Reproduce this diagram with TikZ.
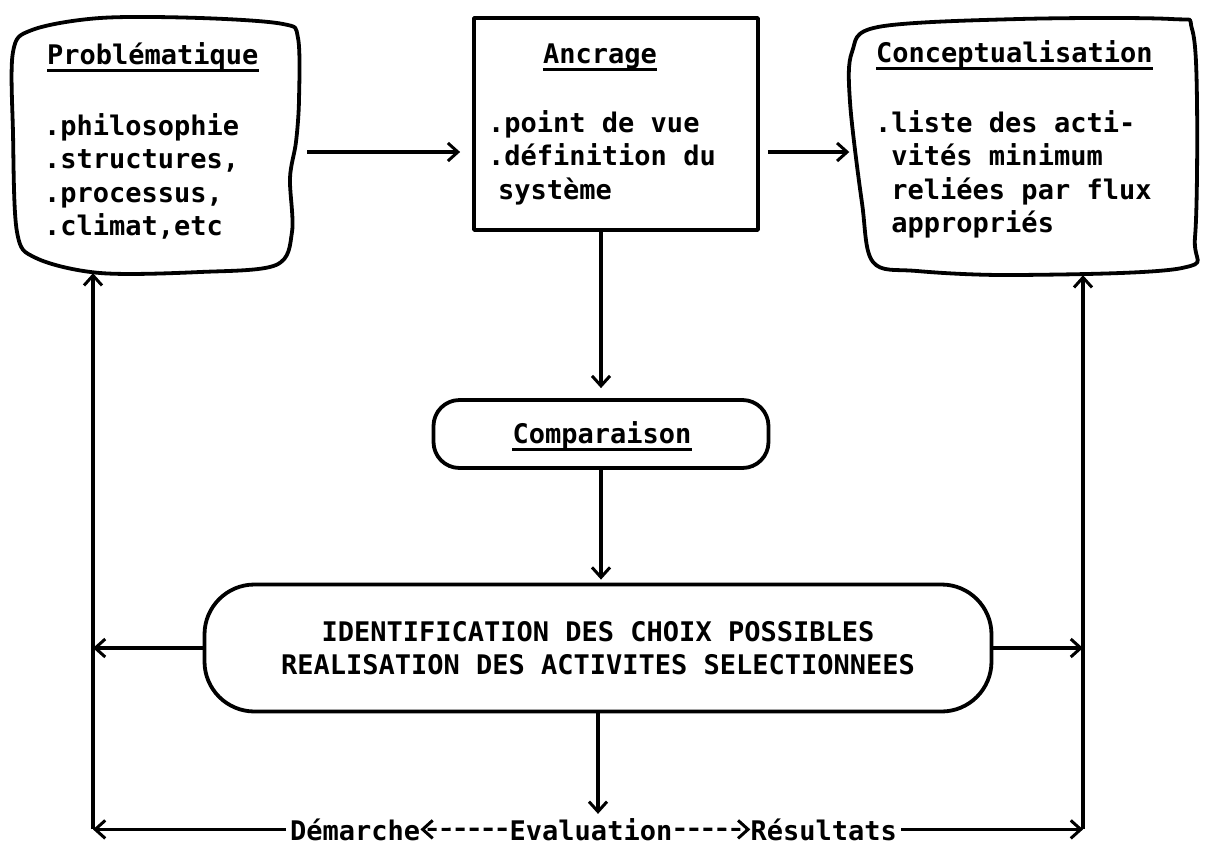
\documentclass[tikz,border=0pt]{standalone}
\usepackage{fontspec}
\newfontfamily\plotfont{DejaVu Sans Mono}
\usetikzlibrary{arrows.meta,calc}
% left-aligned block of lines whose first baseline is the node baseline
\newcommand\rowsblock[1]{\begin{tabular}[t]{@{}l@{}}#1\end{tabular}}

\begin{document}
\begin{tikzpicture}[x=1pt,y=-1pt,
  every node/.style={font=\plotfont\bfseries\fontsize{27}{33.5}\selectfont, inner sep=0pt},
  boxline/.style={line width=3.8pt, line join=round},
  conn/.style={line width=3.2pt},
  arr/.style={conn, -{Straight Barb[length=10pt,width=18pt,line width=3pt]}},
  darr/.style={arr, dash pattern=on 9pt off 5pt},
  uline/.style={line width=3pt}
]
\fill[white] (0,0) rectangle (1208,847);
\useasboundingbox (0,0) rectangle (1208,847);

% ---- upper row -------------------------------------------------------
\node[minimum width=288pt, minimum height=242pt] (prob) at (155,152) {};
\draw[boxline] plot[smooth cycle, tension=0.55] coordinates {
  (13,52) (32,30) (100,18) (200,18) (283,24) (298,38) (299,100) (296,142)
  (290,178) (292,232) (276,265) (200,272) (100,273) (36,258) (17,232) (13,133)};
\node[anchor=base west] (probT) at (47,64) {Problématique};
\node[anchor=base west] (probL) at (44,135)
  {\rowsblock{.philosophie\\.structures,\\.processus,\\.climat,etc}};

\node[draw, boxline, minimum width=284pt, minimum height=212pt] (anc) at (616,124) {};
\node[anchor=base] (ancT) at (600,63) {Ancrage};
\node[anchor=base west] (ancL) at (488,132)
  {\rowsblock{.point de vue\\.définition du\\\hspace{10pt}système}};

\node[minimum width=347pt, minimum height=246pt] (conc) at (1023,152) {};
\draw[boxline] plot[smooth cycle, tension=0.55] coordinates {
  (852,52) (878,27) (1019,19) (1171,19) (1192,29) (1197,102) (1195,237)
  (1182,268) (1019,275) (917,271) (873,262) (862,203) (850,102)};
\node[anchor=base west] (concT) at (876,62) {Conceptualisation};
\node[anchor=base west] (concL) at (875,132)
  {\rowsblock{.liste des acti-\\\phantom{.}vités minimum\\\phantom{.}reliées par flux\\\phantom{.}appropriés}};

% ---- middle column ---------------------------------------------------
\node[draw, boxline, rounded corners=26pt, minimum width=335pt, minimum height=68pt] (cmp) at (601,434) {};
\node[anchor=base] (cmpT) at (602,443) {Comparaison};

\node[draw, boxline, rounded corners=50pt, minimum width=787pt, minimum height=127pt, align=center] (idf) at (598,648)
  {IDENTIFICATION DES CHOIX POSSIBLES\\REALISATION DES ACTIVITES SELECTIONNEES};

% ---- bottom line -----------------------------------------------------
\coordinate (cl) at (93,831);
\coordinate (cr) at (1083,831);
\node[anchor=base west] (dem) at (290,840) {Démarche};
\node[anchor=base] (eva) at (591,840) {Evaluation};
\node[anchor=base east] (res) at (897,840) {Résultats};

% ---- underlined titles ----------------------------------------------
\foreach \t in {probT,ancT,concT,cmpT}
  \draw[uline] ([yshift=-6pt]\t.base west) -- ([yshift=-6pt]\t.base east);

% ---- connectors ------------------------------------------------------
\draw[arr, shorten <=8pt, shorten >=12pt] (prob.east) -- (prob.east -| anc.west);
\draw[arr, shorten <=8pt] (anc.east |- prob.east) -- (conc.west);
\draw[arr, shorten >=10pt] (anc.south -| cmp.north) -- (cmp.north);
\draw[arr, shorten >=3pt] (cmp.south) -- (cmp.south |- idf.north);
\draw[arr, shorten >=4pt] (idf.south) -- (idf.south |- eva.north);
\draw[arr] (idf.west) -- (idf.west -| cl);
\draw[arr] (idf.east) -- (idf.east -| cr);
\draw[arr, shorten <=4pt] (dem.west) -- (dem.west -| cl);
\draw[arr, shorten <=4pt] (res.east) -- (res.east -| cr);
\draw[arr] (dem.west -| cl) -- (cl |- prob.south);
\draw[arr] (res.east -| cr) -- (cr |- conc.south);
\draw[darr, shorten <=3pt] (eva.west) -- (dem.east);
\draw[darr, shorten <=3pt] (eva.east) -- (res.west);
\end{tikzpicture}
\end{document}
